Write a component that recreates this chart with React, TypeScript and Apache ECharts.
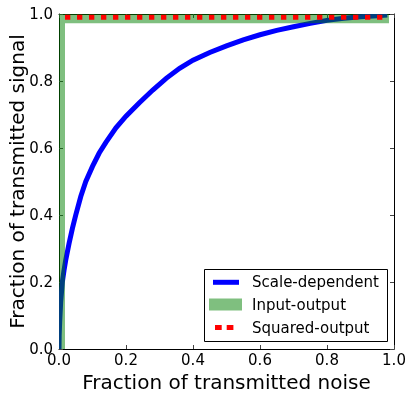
import React, { useEffect, useRef } from "react";
import * as echarts from "echarts";

const tickValues = [0, 0.2, 0.4, 0.6, 0.8, 1.0];
const xLabel = "Fraction of transmitted noise";
const yLabel = "Fraction of transmitted signal";
const seriesNames = ["Scale-dependent", "Input-output", "Squared-output"];

const scaleDepX = [0, 0.0005, 0.002, 0.005, 0.01, 0.015, 0.02, 0.03, 0.04, 0.05, 0.065, 0.08, 0.1, 0.12, 0.14, 0.17, 0.2, 0.24, 0.28, 0.32, 0.36, 0.4, 0.45, 0.5, 0.55, 0.6, 0.65, 0.7, 0.75, 0.8, 0.85, 0.9, 0.95, 0.98];
const scaleDepY = [0, 0.04, 0.08, 0.14, 0.2, 0.235, 0.265, 0.315, 0.36, 0.4, 0.455, 0.5, 0.545, 0.585, 0.617, 0.66, 0.695, 0.735, 0.773, 0.808, 0.838, 0.862, 0.885, 0.905, 0.923, 0.938, 0.951, 0.962, 0.972, 0.981, 0.987, 0.992, 0.995, 0.997];

const inputOutX = [0, 0, 0.985];
const inputOutY = [0, 0.99, 0.99];

const squaredX = [0.018, 0.985];
const squaredY = [0.99, 0.99];

const FONT = "DejaVu Sans";

export default function App() {
  const ref = useRef<HTMLDivElement>(null);
  useEffect(() => {
    if (!ref.current) return;
    const chart = echarts.init(ref.current, null, { renderer: "svg" });
    const zip = (xs: number[], ys: number[]) => xs.map((x, i) => [x, ys[i]]);
    const axisCommon = {
      type: "value" as const,
      min: 0,
      max: 1,
      interval: 0.2,
      splitLine: { show: false },
      axisLine: { show: true, onZero: false, lineStyle: { color: "#000", width: 1 } },
      axisTick: { show: true, inside: true, length: 4, lineStyle: { color: "#444", width: 1 } },
    };
    const fmt = (v: number) => (tickValues.some((t) => Math.abs(t - v) < 1e-9) ? v.toFixed(1) : "");
    const legendX = 204, legendY = 269, legendW = 183, legendH = 72;
    const rows = [282.3, 304.5, 327.5];

    const curve = (name: string, xs: number[], ys: number[], style: any, z: number) => ({
      name,
      type: "custom",
      clip: true,
      z,
      data: [[xs[0], ys[0]]],
      renderItem: (_params: any, api: any) => {
        const pts = zip(xs, ys).map((p) => api.coord(p));
        return {
          type: "polyline",
          shape: { points: pts },
          style: { fill: null, lineCap: "butt", lineJoin: "miter", ...style },
        };
      },
    });

    chart.setOption({
      animation: false,
      grid: { left: 59, right: 18, top: 14, bottom: 50, containLabel: false, outerBoundsMode: "none" },
      xAxis: [
        {
          ...axisCommon,
          position: "bottom",
          name: xLabel,
          nameLocation: "middle",
          nameGap: 22,
          nameTextStyle: { fontFamily: FONT, fontSize: 20, color: "#000" },
          axisLabel: { formatter: fmt, fontFamily: FONT, fontSize: 15, color: "#000", margin: 3, showMinLabel: true, showMaxLabel: true, hideOverlap: false },
        },
        { ...axisCommon, position: "top", axisLabel: { show: false } },
      ],
      yAxis: [
        {
          ...axisCommon,
          position: "left",
          axisLabel: { formatter: fmt, fontFamily: FONT, fontSize: 15, color: "#000", margin: 6, showMinLabel: true, showMaxLabel: true, hideOverlap: false },
        },
        { ...axisCommon, position: "right", axisLabel: { show: false } },
      ],
      series: [
        curve(seriesNames[0], scaleDepX, scaleDepY, { stroke: "#0000ff", lineWidth: 5 }, 2),
        curve(seriesNames[1], inputOutX, inputOutY, { stroke: "rgba(0,128,0,0.5)", lineWidth: 12 }, 3),
        curve(seriesNames[2], squaredX, squaredY, { stroke: "#ff0000", lineWidth: 5, lineDash: [5.3, 6.7] }, 4),
      ],
      graphic: [
        {
          type: "text",
          x: 16.5,
          y: 181.5,
          rotation: Math.PI / 2,
          style: { text: yLabel, fontFamily: FONT, fontSize: 20, fill: "#000", align: "center", verticalAlign: "middle" },
          z: 11,
        },
        {
          type: "rect",
          shape: { x: legendX + 0.5, y: legendY + 0.5, width: legendW, height: legendH },
          style: { fill: "#fff", stroke: "#000", lineWidth: 1 },
          z: 10,
        },
        {
          type: "line",
          shape: { x1: 213, y1: rows[0], x2: 239, y2: rows[0] },
          style: { stroke: "#0000ff", lineWidth: 5 },
          z: 11,
        },
        {
          type: "line",
          shape: { x1: 209, y1: rows[1], x2: 242, y2: rows[1] },
          style: { stroke: "rgba(0,128,0,0.5)", lineWidth: 12 },
          z: 11,
        },
        {
          type: "line",
          shape: { x1: 215, y1: rows[2], x2: 234, y2: rows[2] },
          style: { stroke: "#ff0000", lineWidth: 5, lineDash: [6.7, 5] },
          z: 11,
        },
        ...seriesNames.map((n, i) => ({
          type: "text",
          x: 252,
          y: rows[i],
          style: { text: n, fontFamily: FONT, fontSize: 15, fill: "#000", verticalAlign: "middle" },
          z: 11,
        })),
      ],
    });
    return () => chart.dispose();
  }, []);
  return <div ref={ref} style={{ position: "fixed", left: 0, top: 0, width: 412, height: 399 }} />;
}
